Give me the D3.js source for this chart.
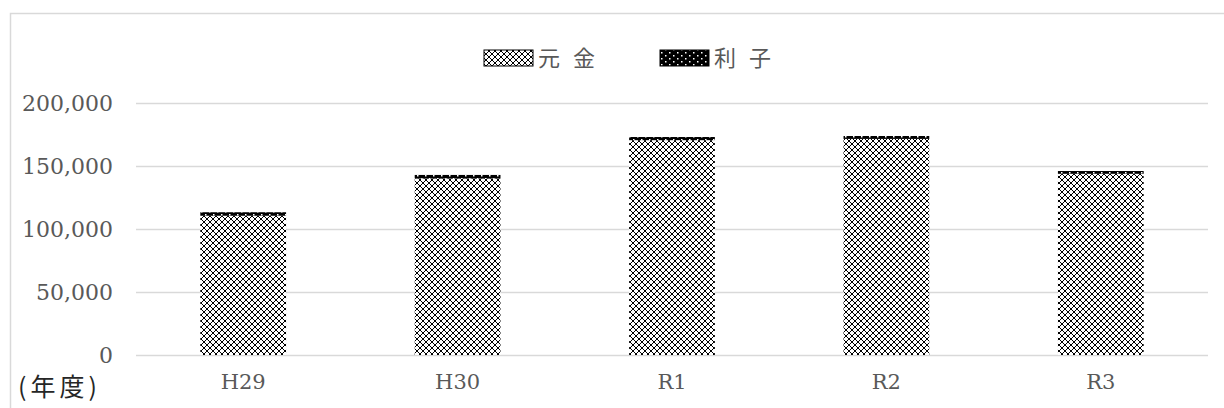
<!DOCTYPE html>
<html>
<head>
<meta charset="utf-8">
<script src="https://cdn.jsdelivr.net/npm/d3@7"></script>
<style>
  html, body { margin: 0; padding: 0; background: #fff; }
  svg { display: block; }
</style>
</head>
<body>
<svg id="chart" width="1224" height="408"></svg>
<script>
// 年度別の償還額（元金・利子）
const years = ["H29", "H30", "R1", "R2", "R3"];
const principal = [110500, 140000, 170500, 171500, 143800];
const interest = [2800, 2900, 2500, 2300, 2200];
const seriesNames = ["元 金", "利 子"];
const yTicks = [0, 50000, 100000, 150000, 200000];

const svg = d3.select("#chart");
const W = 1224, H = 408;
const margin = { left: 136, right: 16, top: 103, bottom: 53 };

// chart area frame
svg.append("rect")
  .attr("x", 10.5).attr("y", 13.5)
  .attr("width", 1224).attr("height", 420)
  .attr("fill", "#fff").attr("stroke", "#d9d9d9").attr("stroke-width", 1.5);

// fill patterns
const defs = svg.append("defs");
const pPat = defs.append("pattern")
  .attr("id", "patPrincipal").attr("patternUnits", "userSpaceOnUse")
  .attr("width", 6).attr("height", 6);
pPat.append("rect").attr("width", 6).attr("height", 6).attr("fill", "#fff");
pPat.append("path").attr("d", "M0,0L6,6M6,0L0,6")
  .attr("stroke", "#000").attr("stroke-width", 1).attr("fill", "none");

const iPat = defs.append("pattern")
  .attr("id", "patInterest").attr("patternUnits", "userSpaceOnUse")
  .attr("width", 8).attr("height", 6);
iPat.append("rect").attr("width", 8).attr("height", 6).attr("fill", "#000");
iPat.append("rect").attr("x", 1).attr("y", 1).attr("width", 1.5).attr("height", 1.5).attr("fill", "#fff");
iPat.append("rect").attr("x", 5).attr("y", 4).attr("width", 1.5).attr("height", 1.5).attr("fill", "#fff");

const x = d3.scaleBand()
  .domain(years)
  .range([margin.left, W - margin.right])
  .paddingInner(0.6).paddingOuter(0.3);

const y = d3.scaleLinear()
  .domain([0, 200000])
  .range([H - margin.bottom, margin.top]);

// gridlines
svg.append("g")
  .selectAll("line")
  .data(yTicks)
  .join("line")
  .attr("x1", margin.left).attr("x2", W - margin.right)
  .attr("y1", d => Math.round(y(d)) + 0.5).attr("y2", d => Math.round(y(d)) + 0.5)
  .attr("stroke", "#d9d9d9").attr("stroke-width", 1.5);

const numFont = "'DejaVu Serif', serif";

// y axis labels
const yAxis = d3.axisLeft(y).tickValues(yTicks)
  .tickFormat(d3.format(",")).tickSize(0).tickPadding(23);
const gy = svg.append("g").attr("transform", `translate(${margin.left},0)`).call(yAxis);
gy.select(".domain").remove();
gy.selectAll("text")
  .attr("font-family", numFont)
  .attr("font-size", 22).attr("fill", "#595959");

// stacked bars
const stackData = years.map((yr, i) => ({ year: yr, p: principal[i], n: interest[i] }));
const stack = d3.stack().keys(["p", "n"])(stackData);
const fills = ["url(#patPrincipal)", "url(#patInterest)"];

svg.append("g")
  .selectAll("g")
  .data(stack)
  .join("g")
  .attr("fill", (d, i) => fills[i])
  .selectAll("rect")
  .data(d => d)
  .join("rect")
  .attr("x", d => x(d.data.year))
  .attr("width", x.bandwidth())
  .attr("y", d => y(d[1]))
  .attr("height", d => y(d[0]) - y(d[1]));

// x axis labels
const xAxis = d3.axisBottom(x).tickSize(0).tickPadding(19);
const gx = svg.append("g").attr("transform", `translate(0,${H - margin.bottom})`).call(xAxis);
gx.select(".domain").remove();
gx.selectAll("text")
  .attr("font-family", numFont)
  .attr("font-size", 21).attr("fill", "#595959");

// unit label
svg.append("text")
  .attr("x", 18).attr("y", 396)
  .attr("font-family", "'Noto Sans CJK JP', sans-serif")
  .attr("font-size", 25).attr("fill", "#262626")
  .attr("letter-spacing", 4)
  .text("(年度)");

// legend
const legend = svg.append("g");
const legendX = [484, 660];
seriesNames.forEach((name, i) => {
  legend.append("rect")
    .attr("x", legendX[i]).attr("y", 50)
    .attr("width", 49).attr("height", 16)
    .attr("fill", fills[i]).attr("stroke", "#000").attr("stroke-width", 1);
  legend.append("text")
    .attr("x", legendX[i] + 54).attr("y", 66)
    .attr("font-family", "'Noto Sans CJK JP', sans-serif")
    .attr("font-size", 22).attr("fill", "#595959")
    .attr("letter-spacing", 4)
    .text(name);
});
</script>
</body>
</html>
